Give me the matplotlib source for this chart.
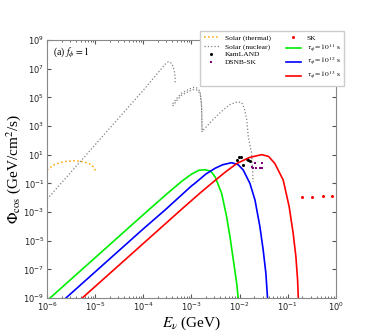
import numpy as np
import matplotlib
matplotlib.use('Agg')
import matplotlib.pyplot as plt
from matplotlib.ticker import LogLocator, NullLocator

# log10 values (E in GeV, flux in GeV/cm^2/s)
therm_logE = [-6.0, -5.87, -5.66, -5.45, -5.25, -5.11, -5.04, -4.98]
therm_logF = [-0.07, 0.28, 0.51, 0.58, 0.51, 0.35, 0.16, -0.19]

nuc1_logE = [-6.0, -5.0, -4.0, -3.7, -3.55, -3.48, -3.41, -3.36, -3.34, -3.34]
nuc1_logF = [-2.1, 1.7, 5.5, 6.7, 7.3, 7.49, 7.37, 6.91, 6.4, 5.98]
nuc2_logE = [-3.39, -3.30, -3.20, -3.03, -2.95, -2.89, -2.82, -2.79, -2.78]
nuc2_logF = [4.39, 4.8, 5.16, 5.46, 5.55, 5.51, 5.28, 4.35, 2.49]
nuc2b_logF = [4.55, 4.95, 5.3, 5.6, 5.7, 5.66, 5.42, 4.5, 2.6]
nuc3_logE = [-2.755, -2.55, -2.35, -2.20, -2.05, -1.96, -1.90, -1.85, -1.82, -1.75, -1.72]
nuc3_logF = [2.72, 3.45, 4.1, 4.5, 4.68, 4.65, 4.2, 3.42, 2.25, 1.09, -0.89]

kam_logE = [-2.06, -2.01, -1.98, -1.925, -1.85, -1.82, -1.79]
kam_logF = [0.63, 0.81, 0.86, 0.28, 0.67, 0.63, 0.58]

dsnb_logE = [-1.68, -1.54, -1.75, -1.72, -1.65, -1.58, -1.54]
dsnb_logF = [0.40, 0.44, 0.12, 0.05, 0.05, 0.05, 0.05]

sk_logE = [-0.71, -0.49, -0.26, -0.09]
sk_logF = [-1.93, -1.98, -1.87, -1.91]

g_logE = [-5.94, -5.0, -4.0, -3.5, -3.2, -3.0, -2.85, -2.72, -2.6, -2.51, -2.373, -2.27, -2.20, -2.13, -2.06, -2.03]
g_logF = [-9.0, -6.18, -3.18, -1.70, -0.85, -0.36, -0.09, -0.05, -0.15, -0.54, -1.70, -3.33, -4.73, -6.35, -7.98, -9.0]

b_logE = [-5.61, -5.0, -4.0, -3.55, -3.0, -2.93, -2.7, -2.51, -2.35, -2.166, -2.03, -1.925, -1.786, -1.68, -1.578, -1.51, -1.454, -1.42]
b_logF = [-9.0, -7.17, -4.17, -2.86, -1.18, -1.0, -0.35, 0.05, 0.30, 0.44, 0.30, -0.07, -1.0, -2.17, -4.03, -5.65, -7.28, -9.0]

r_logE = [-5.27, -5.0, -4.0, -3.2, -2.82, -2.51, -2.3, -2.06, -1.8, -1.543, -1.4, -1.27, -1.094, -0.97, -0.887, -0.83, -0.795, -0.78]
r_logF = [-9.0, -8.19, -5.19, -2.79, -1.67, -0.80, -0.22, 0.38, 0.80, 1.0, 0.88, 0.40, -0.77, -2.63, -4.49, -6.12, -7.75, -9.0]

def p(v):
    return 10.0 ** np.array(v)

serif = 'Liberation Serif'

fig = plt.figure(figsize=(3.74, 3.36), dpi=100)
ax = fig.add_axes([0.126, 0.113, 0.772, 0.768])

ax.plot(p(therm_logE), p(therm_logF), ':', color='orange', lw=1.1, label='Solar (thermal)')
ax.plot(p(nuc1_logE), p(nuc1_logF), ':', color='gray', lw=0.9, label='Solar (nuclear)')
ax.plot(p(nuc2_logE), p(nuc2_logF), ':', color='gray', lw=0.9)
ax.plot(p(nuc2_logE), p(nuc2b_logF), ':', color='gray', lw=0.9)
ax.plot(p(nuc3_logE), p(nuc3_logF), ':', color='gray', lw=0.9)

ax.plot(p(kam_logE), p(kam_logF), 'o', color='black', ms=2.2, mew=0, ls='none', label='KamLAND')
ax.plot(p(dsnb_logE), p(dsnb_logF), 's', color='purple', ms=1.8, mew=0, ls='none', label='DSNB-SK')
ax.plot(p(sk_logE), p(sk_logF), 'o', color='red', ms=2.2, mew=0, ls='none', label='SK')

ax.plot(p(g_logE), p(g_logF), '-', color='#00ee00', lw=1.2, label=r'$\tau_\phi = 10^{11}$ s')
ax.plot(p(b_logE), p(b_logF), '-', color='blue', lw=1.2, label=r'$\tau_\phi = 10^{12}$ s')
ax.plot(p(r_logE), p(r_logF), '-', color='red', lw=1.2, label=r'$\tau_\phi = 10^{13}$ s')

ax.set_xscale('log')
ax.set_yscale('log')
ax.set_xlim(1e-6, 1)
ax.set_ylim(1e-9, 1e9)
ax.set_yticks([10.0 ** k for k in range(-9, 10, 2)])
ax.yaxis.set_minor_locator(NullLocator())
ax.xaxis.set_minor_locator(LogLocator(base=10, subs=np.arange(2, 10), numticks=20))

ax.tick_params(which='both', direction='in', top=True, right=True, labelsize=6,
               color='#555555', labelcolor='#222222')
ax.tick_params(which='major', length=3, pad=2)
ax.tick_params(which='minor', length=1.5)
for s in ax.spines.values():
    s.set_color('#888888')

ax.set_xlabel(r'$E_\nu$ (GeV)', fontfamily=serif, math_fontfamily='stix', fontsize=11, labelpad=1)
ax.set_ylabel(r'$\Phi_{\rm cos}$ (GeV/cm$^2$/s)', fontfamily=serif, math_fontfamily='stix', fontsize=11, labelpad=0)

ax.text(0.02, 0.955, r'(a) $f_\phi = 1$', transform=ax.transAxes, fontfamily=serif,
        math_fontfamily='stix', fontsize=7, va='center', ha='left')

leg = ax.legend(ncol=2, loc='upper left', bbox_to_anchor=(0.529, 1.035),
                prop={'family': serif, 'size': 5.4}, fancybox=False, edgecolor='#cccccc',
                framealpha=1, borderaxespad=0, borderpad=0.5, handlelength=2.0,
                handletextpad=0.8, columnspacing=2.0, labelspacing=0.22, markerscale=1)
for t in leg.get_texts():
    t.set_math_fontfamily('stix')

fig.savefig('out.png', dpi=100)
